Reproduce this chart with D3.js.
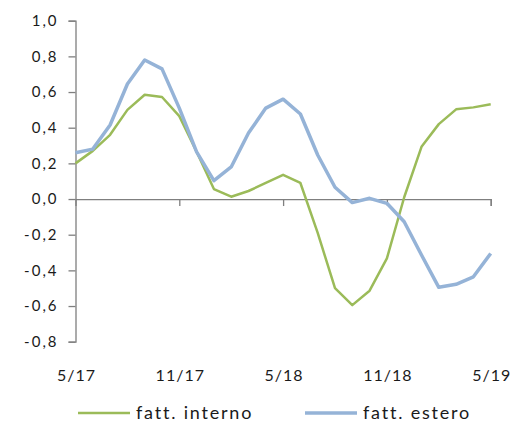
<!DOCTYPE html>
<html><head><meta charset="utf-8">
<script src="https://cdn.jsdelivr.net/npm/d3@7"></script>
<style>body{margin:0;background:#fff}svg{display:block}text{font-family:Lato,"Open Sans",sans-serif;fill:#1a1a1a}</style>
</head><body>
<svg id="c" width="517" height="428"></svg>
<script>
const months = ["5/17","6/17","7/17","8/17","9/17","10/17","11/17","12/17","1/18","2/18","3/18","4/18","5/18","6/18","7/18","8/18","9/18","10/18","11/18","12/18","1/19","2/19","3/19","4/19","5/19"];
const tickLabels = ["5/17","11/17","5/18","11/18","5/19"];
const yTicks = [-0.8,-0.6,-0.4,-0.2,0,0.2,0.4,0.6,0.8,1.0];
const interno = [0.20,0.27,0.36,0.50,0.585,0.572,0.465,0.265,0.056,0.013,0.045,0.09,0.136,0.09,-0.19,-0.50,-0.595,-0.514,-0.333,0.01,0.293,0.42,0.503,0.514,0.531];
const estero = [0.26,0.28,0.415,0.645,0.78,0.73,0.51,0.265,0.103,0.18,0.37,0.51,0.56,0.477,0.247,0.066,-0.02,0.004,-0.024,-0.127,-0.314,-0.495,-0.478,-0.436,-0.305];
const seriesNames = ["fatt. interno","fatt. estero"];
const colors = ["#9bbb59","#95b3d7"];
const widths = [2.5,3.5];

const svg = d3.select("#c");
const x = d3.scalePoint().domain(months).range([75.5,490.7]);
const y = d3.scaleLinear().domain([-0.8,1.0]).range([341.7,20.7]);
const fmt = d => d3.format(".1f")(d).replace(".",",").replace("−","-");
const axisColor = "#7f7f7f";

// y axis
const ya = svg.append("g").attr("transform","translate(75.5,0)")
  .call(d3.axisLeft(y).tickValues(yTicks).tickFormat(fmt).tickSize(7).tickPadding(10));
ya.select(".domain").attr("stroke",axisColor).attr("stroke-width",1.3);
ya.selectAll(".tick line").attr("stroke",axisColor).attr("stroke-width",1.3);
ya.selectAll("text").style("font-size","15px").style("letter-spacing","2px").attr("fill","#1a1a1a");

// x axis at zero
const xa = svg.append("g").attr("transform",`translate(0,${y(0)})`)
  .call(d3.axisBottom(x).tickValues(tickLabels).tickSize(7).tickFormat(""));
xa.select(".domain").attr("stroke",axisColor).attr("stroke-width",1.3);
xa.selectAll(".tick line").attr("stroke",axisColor).attr("stroke-width",1.3);
xa.selectAll(".tick").filter(d=>d==="5/17").select("line").remove();
svg.append("g").selectAll("text").data(tickLabels).join("text")
  .attr("x",d=>x(d)+1).attr("y",381).attr("text-anchor","middle")
  .style("font-size","16px").style("letter-spacing","1px").text(d=>d);

// lines
const line = d3.line().x((d,i)=>x(months[i])).y(d=>y(d));
[interno, estero].forEach((s,k)=>{
  svg.append("path").datum(s).attr("d",line).attr("fill","none")
    .attr("stroke",colors[k]).attr("stroke-width",widths[k]).attr("stroke-linejoin","round");
});

// legend
const lg = [{x1:78,x2:130,tx:136},{x1:305,x2:357,tx:363}];
lg.forEach((l,k)=>{
  svg.append("line").attr("x1",l.x1).attr("x2",l.x2).attr("y1",413).attr("y2",413)
    .attr("stroke",colors[k]).attr("stroke-width",widths[k]);
  svg.append("text").attr("x",l.tx).attr("y",419).style("font-size","18px")
    .style("letter-spacing","1.8px").text(seriesNames[k]);
});
</script>
</body></html>
